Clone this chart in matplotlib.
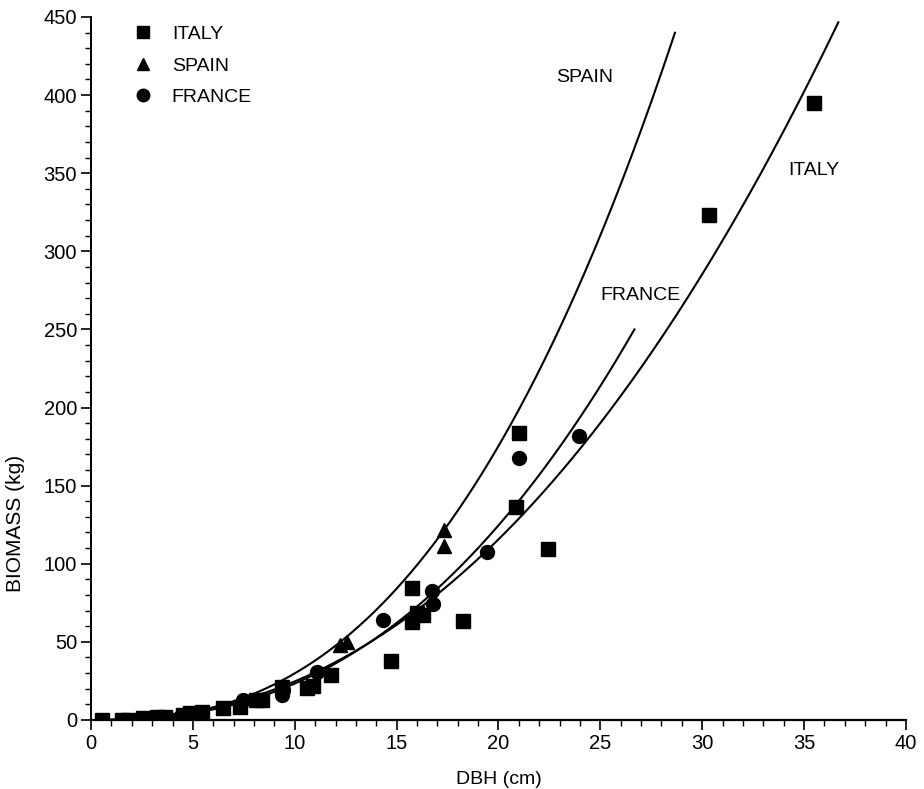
import numpy as np
import matplotlib
matplotlib.use("Agg")
import matplotlib.pyplot as plt
from matplotlib.ticker import MultipleLocator

plt.rcParams["font.family"] = ["Liberation Sans", "DejaVu Sans"]

italy_dbh = [0.52, 1.5, 1.83, 2.57, 3.22, 3.63, 4.04, 4.53, 4.86, 5.43, 6.49,
             7.3, 8.1, 8.38, 9.36, 10.6, 10.9, 11.8, 14.72, 15.74, 15.74,
             15.98, 16.31, 18.24, 20.84, 21.0, 22.45, 30.35, 35.47]
italy_mass = [0, 0, 0, 1.1, 1.7, 1.7, 0, 3.2, 4.3, 5.3, 7.5,
              8.3, 13, 12.8, 21, 20.3, 21.5, 29, 37.8, 84.3, 62.9,
              68.3, 67.2, 63.6, 136.6, 183.7, 109.5, 323.3, 395.2]

spain_dbh = [12.22, 12.55, 17.34, 17.34]
spain_mass = [48, 50.1, 111.6, 121.6]

france_dbh = [4.4, 7.48, 9.36, 9.44, 11.08, 14.35, 16.72, 16.8, 19.42, 21.0, 23.95]
france_mass = [2.5, 12.8, 16, 19, 31, 64, 82.6, 74.3, 107.7, 167.7, 181.8]

# fitted allometric curves  biomass = a * dbh^b  (estimated from the drawn lines)
curves = {
    "ITALY": (0.146, 2.228, 36.68),
    "SPAIN": (0.0829, 2.556, 28.66),
    "FRANCE": (0.0885, 2.42, 26.67),
}
curve_labels = {"SPAIN": (24.25, 411), "ITALY": (35.5, 352), "FRANCE": (26.95, 272)}

fig = plt.figure(figsize=(9.24, 7.89), dpi=100)
ax = fig.add_axes([0.0985, 0.0875, 0.882, 0.891])

for name, (a, b, xmax) in curves.items():
    xs = np.linspace(0.5, xmax, 300)
    ax.plot(xs, a * xs ** b, color="black", linewidth=1.5, zorder=2)
    lx, ly = curve_labels[name]
    ax.text(lx, ly, name, fontsize=14, ha="center", va="center")

ax.plot(italy_dbh, italy_mass, "s", color="black", markersize=9.5, label="ITALY", zorder=3)
ax.plot(spain_dbh, spain_mass, "^", color="black", markersize=10, label="SPAIN", zorder=3)
ax.plot(france_dbh, france_mass, "o", color="black", markersize=10, label="FRANCE", zorder=3)

ax.set_xlim(0, 40)
ax.set_ylim(0, 450)
ax.xaxis.set_major_locator(MultipleLocator(5))
ax.xaxis.set_minor_locator(MultipleLocator(1))
ax.yaxis.set_major_locator(MultipleLocator(50))
ax.yaxis.set_minor_locator(MultipleLocator(10))
ax.spines["top"].set_visible(False)
ax.spines["right"].set_visible(False)
ax.spines["left"].set_linewidth(1.4)
ax.spines["bottom"].set_linewidth(1.6)
ax.tick_params(which="major", direction="out", length=7, width=1.2, labelsize=14.5, pad=3)
ax.tick_params(which="minor", direction="out", length=4, width=1.0)
ax.set_xlabel("DBH (cm)", fontsize=14, labelpad=13)
ax.set_ylabel("BIOMASS (kg)", fontsize=15)
ax.yaxis.set_label_coords(-0.081, 0.28)

ax.legend(loc="upper left", bbox_to_anchor=(0.030, 1.0125), frameon=False, fontsize=14,
          numpoints=1, handlelength=1.0, handletextpad=1.0, labelspacing=0.7,
          markerscale=0.9)

fig.savefig("out.png", dpi=100)
